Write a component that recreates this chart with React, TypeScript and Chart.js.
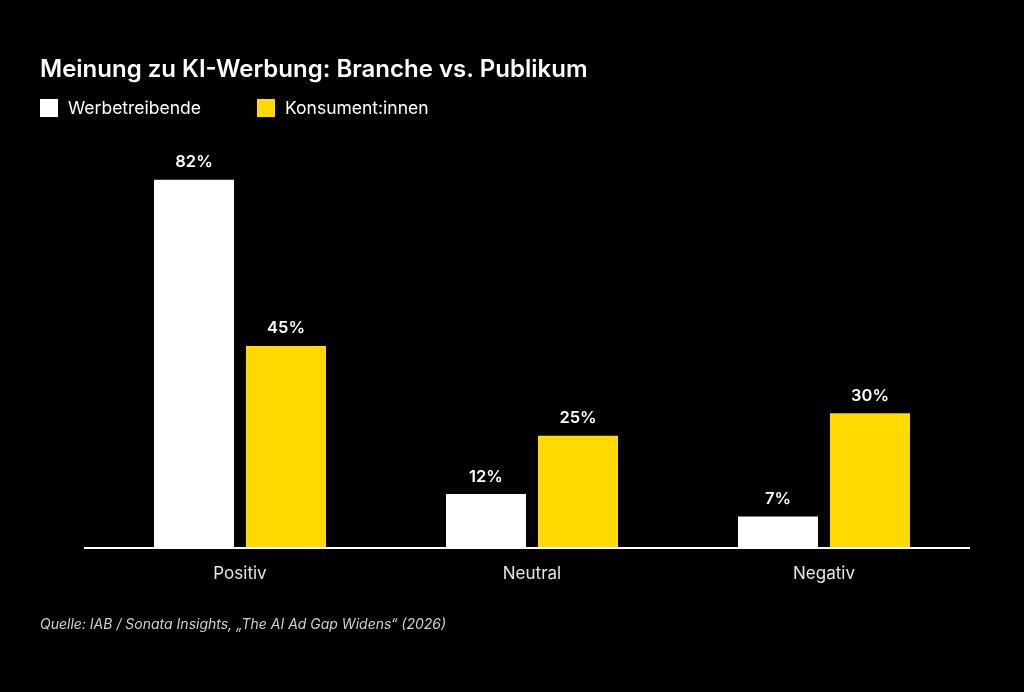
import React, { useEffect, useRef } from "react";
import { Chart, registerables } from "chart.js";

Chart.register(...registerables);

const TITLE = "Meinung zu KI-Werbung: Branche vs. Publikum";
const SOURCE = "Quelle: IAB / Sonata Insights, „The AI Ad Gap Widens“ (2026)";
const categories = ["Positiv", "Neutral", "Negativ"];
const seriesNames = ["Werbetreibende", "Konsument:innen"];
const werbetreibende = [82, 12, 7];
const konsumenten = [45, 25, 30];
const colors = ["#FFFFFF", "#FFD900"];

const FONT = "Inter, 'Noto Sans', sans-serif";

const overlayPlugin = {
  id: "overlay",
  afterDraw(chart: any) {
    const ctx = chart.ctx;
    ctx.save();
    // Title
    ctx.fillStyle = "#FFFFFF";
    ctx.font = `600 24px ${FONT}`;
    ctx.textAlign = "left";
    ctx.textBaseline = "middle";
    ctx.fillText(TITLE, 40, 70);

    // Legend
    const legendX = [40, 257];
    ctx.font = `400 17.5px ${FONT}`;
    chart.data.datasets.forEach((ds: any, i: number) => {
      const x = legendX[i];
      ctx.fillStyle = ds.backgroundColor;
      ctx.fillRect(x, 99, 18, 18);
      ctx.fillStyle = "#FFFFFF";
      ctx.fillText(ds.label, x + 28, 108.5);
    });

    // Axis line
    const y0 = chart.scales.y.getPixelForValue(0);
    ctx.strokeStyle = "#FFFFFF";
    ctx.lineWidth = 2;
    ctx.beginPath();
    ctx.moveTo(chart.chartArea.left - 10, y0);
    ctx.lineTo(chart.chartArea.right, y0);
    ctx.stroke();

    // Value labels
    ctx.font = `600 16.5px ${FONT}`;
    ctx.textAlign = "center";
    ctx.fillStyle = "#FFFFFF";
    chart.data.datasets.forEach((ds: any, di: number) => {
      const meta = chart.getDatasetMeta(di);
      meta.data.forEach((el: any, i: number) => {
        ctx.fillText(`${ds.data[i]}%`, el.x, el.y - 17.5);
      });
    });

    // Source
    ctx.font = `italic 400 14px ${FONT}`;
    ctx.textAlign = "left";
    ctx.fillStyle = "#D0D0D0";
    ctx.fillText(SOURCE, 40, 625);
    ctx.restore();
  },
};

export default function App() {
  const ref = useRef<HTMLCanvasElement | null>(null);
  useEffect(() => {
    if (!ref.current) return;
    const chart = new Chart(ref.current, {
      type: "bar",
      data: {
        labels: categories,
        datasets: [
          {
            label: seriesNames[0],
            data: werbetreibende,
            backgroundColor: colors[0],
            barPercentage: 0.87,
            categoryPercentage: 0.63,
          },
          {
            label: seriesNames[1],
            data: konsumenten,
            backgroundColor: colors[1],
            barPercentage: 0.87,
            categoryPercentage: 0.63,
          },
        ],
      },
      options: {
        responsive: false,
        animation: false,
        devicePixelRatio: 1,
        layout: { padding: { top: 99, left: 94, right: 54, bottom: 104 } },
        plugins: {
          legend: { display: false },
          title: { display: false },
          tooltip: { enabled: false },
        },
        scales: {
          x: {
            grid: { display: false, drawTicks: false },
            border: { display: false },
            ticks: {
              color: "#E6E6E6",
              font: { family: FONT, size: 17 },
              padding: 16,
            },
            afterFit: (s: any) => {
              s.height = 40;
            },
          },
          y: {
            display: false,
            min: 0,
            max: 100,
          },
        },
      },
      plugins: [overlayPlugin],
    });
    return () => chart.destroy();
  }, []);
  return (
    <div
      style={{
        position: "absolute",
        left: 0,
        top: 0,
        width: 1024,
        height: 692,
        background: "#000",
      }}
    >
      <canvas ref={ref} width={1024} height={692} style={{ display: "block" }} />
    </div>
  );
}
